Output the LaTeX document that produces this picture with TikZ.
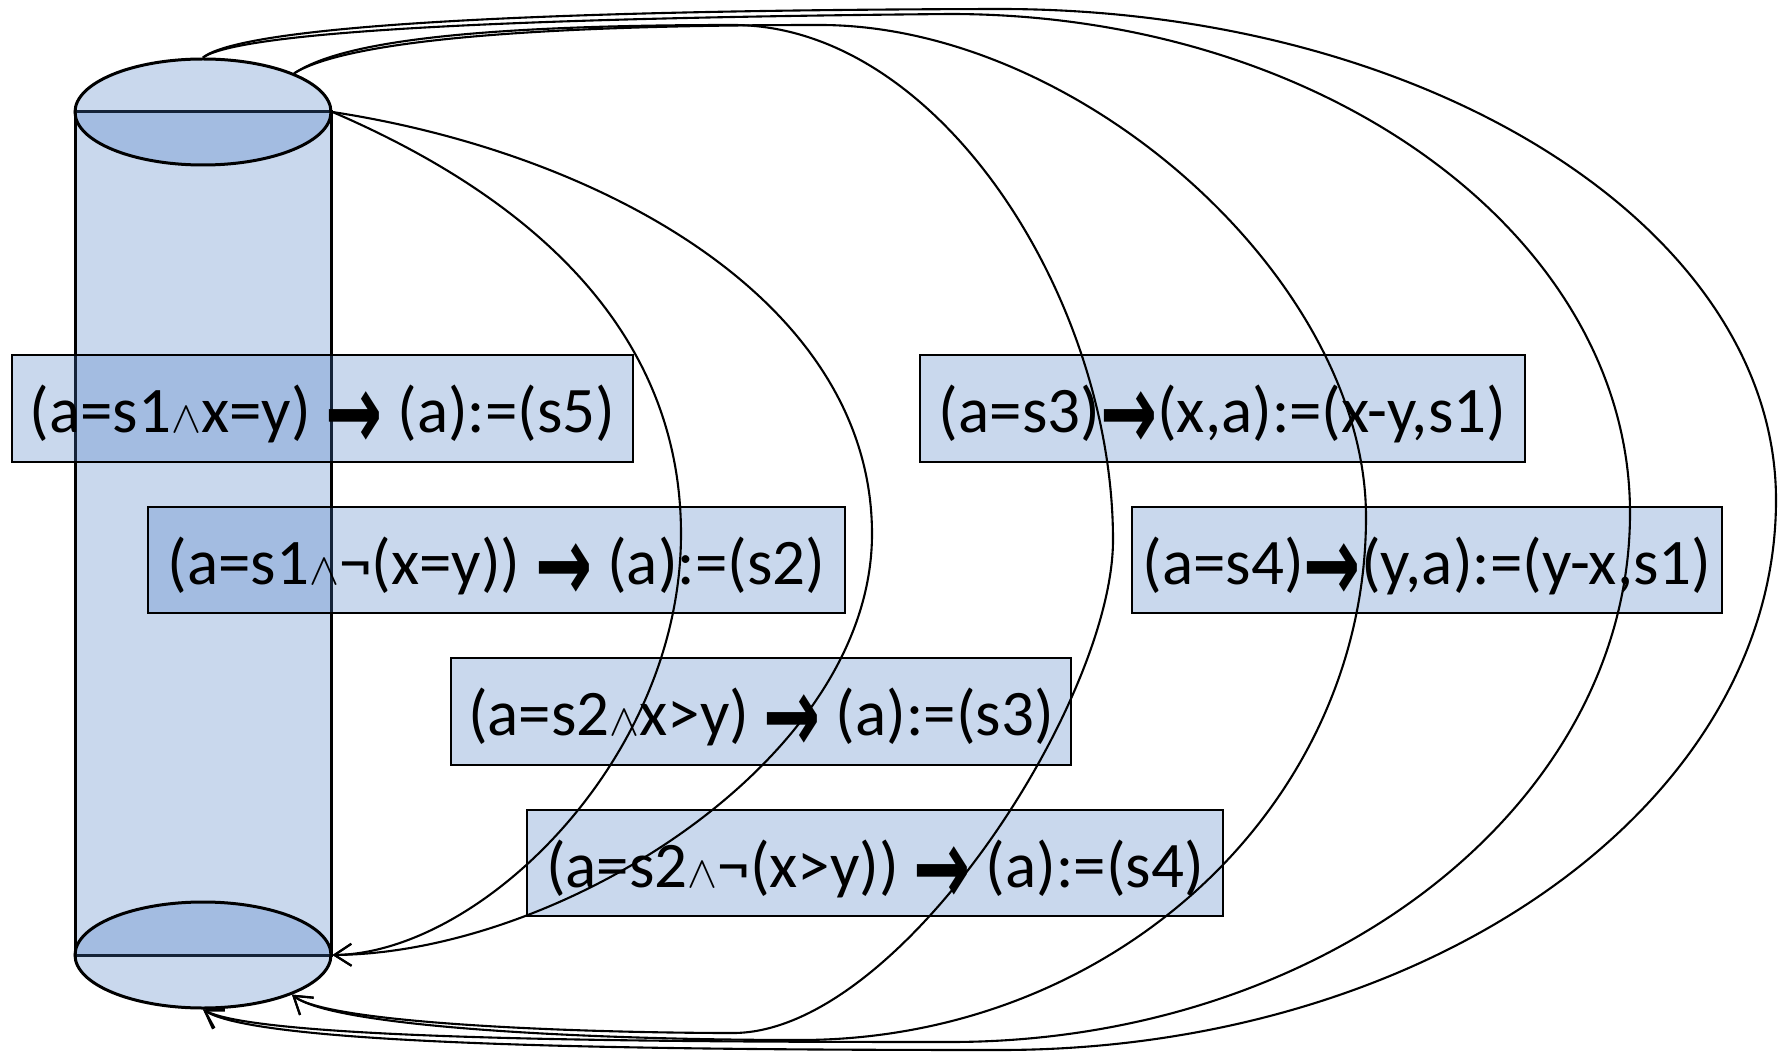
\documentclass[tikz,border=0pt]{standalone}
\usepackage{fontspec}
\setmainfont{Carlito}
\newfontfamily\arrowfont{DejaVu Sans}
\usetikzlibrary{arrows.meta,shapes.geometric}
\definecolor{fillblue}{RGB}{72,122,196}
\newcommand{\tarr}{\raisebox{-17pt}{\scalebox{1.05}[1.65]{\arrowfont\bfseries →}}}
\newcommand{\wdg}{\scalebox{4.5}{\fontsize{10}{12}\selectfont$\wedge$}}
\tikzset{
  box/.style={draw=black, line width=2.6pt, fill=fillblue, fill opacity=0.29, text opacity=1,
    inner sep=0pt, font=\fontsize{65}{78}\selectfont, text height=68pt, text depth=20pt},
  cyl/.style={draw=black, line width=3pt, fill=fillblue, fill opacity=0.29},
  conn/.style={draw=black, line width=2.1pt, -{Straight Barb[length=17pt,width=22pt]}},
}
\begin{document}
\begin{tikzpicture}[x=1pt,y=-1pt]
\useasboundingbox (0,0) rectangle (1780,1056);
\fill[white] (0,0) rectangle (1780,1056);
% cylinder
\node[cyl, rectangle, minimum width=256pt, minimum height=843pt, inner sep=0pt] (body) at (203,533.5) {};
\node[cyl, ellipse, minimum width=256pt, minimum height=106pt, inner sep=0pt] (ctop) at (203,112) {};
\node[cyl, ellipse, minimum width=256pt, minimum height=106pt, inner sep=0pt] (cbot) at (203,955) {};
% rule boxes
\node[box, minimum width=621pt, minimum height=107pt] (b1) at (322.5,408.5) {(a=s1\wdg{}x=y) \tarr\ (a):=(s5)};
\node[box, minimum width=697pt, minimum height=106pt] (b2) at (496.5,560) {(a=s1\wdg{}¬(x=y)) \tarr\ (a):=(s2)};
\node[box, minimum width=620pt, minimum height=107pt] (b3) at (761,711.5) {(a=s2\wdg{}x>y) \tarr\ (a):=(s3)};
\node[box, minimum width=696pt, minimum height=106pt] (b4) at (875,863) {(a=s2\wdg{}¬(x>y)) \tarr\ (a):=(s4)};
\node[box, minimum width=605pt, minimum height=107pt] (b5) at (1222.5,408.5) {(a=s3)\tarr{}(x,a):=(x-y,s1)};
\node[box, minimum width=590pt, minimum height=106pt] (b6) at (1427,560) {(a=s4)\tarr{}(y,a):=(y-x,s1)};
% connectors
\draw[conn] (ctop.east) .. controls (530,197) and (681,330) .. (681,534)
  .. controls (681,760) and (480,953) .. (cbot.east);
\draw[conn] (ctop.east) .. controls (600,153) and (872,300) .. (872,534)
  .. controls (872,760) and (560,953) .. (cbot.east);
\draw[conn] (ctop.23) .. controls (330,50) and (420,25) .. (733,25)
  .. controls (940,25) and (1113,300) .. (1113,540)
  .. controls (1113,700) and (900,1033) .. (733,1033)
  .. controls (600,1033) and (330,1025) .. (cbot.-24);
\draw[conn] (ctop.23) .. controls (335,48) and (470,25) .. (820,25)
  .. controls (1080,25) and (1366,280) .. (1366,517)
  .. controls (1366,806) and (1113,1040) .. (800,1040)
  .. controls (600,1040) and (335,1028) .. (cbot.-24);
\draw[conn] (ctop.north) .. controls (240,32) and (500,18) .. (950,14)
  .. controls (1326,14) and (1630,237) .. (1630,513)
  .. controls (1630,805) and (1326,1042) .. (950,1042)
  .. controls (650,1042) and (260,1040) .. (cbot.south);
\draw[conn] (ctop.north) .. controls (240,28) and (500,10) .. (1000,9)
  .. controls (1430,9) and (1776,229) .. (1776,500)
  .. controls (1776,804) and (1430,1050) .. (1000,1050)
  .. controls (650,1050) and (260,1046) .. (cbot.south);
\end{tikzpicture}
\end{document}
